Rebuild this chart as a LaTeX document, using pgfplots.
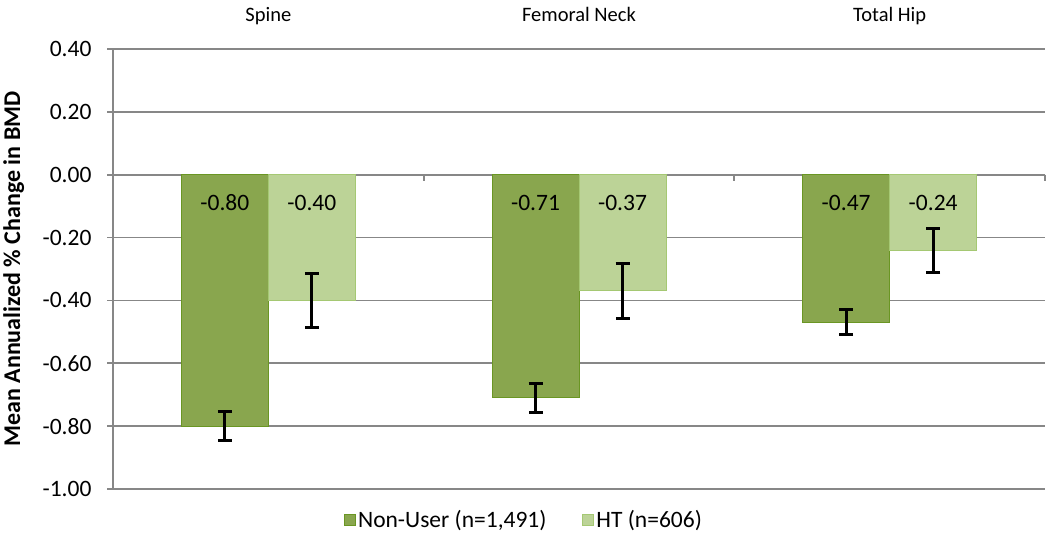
\documentclass[border=0pt]{standalone}
\usepackage{fontspec}
\setmainfont{Carlito}
\usepackage{pgfplots}
\usepackage{pgfplotstable}
\pgfplotsset{compat=1.18}
\definecolor{darkfill}{RGB}{137,166,78}
\definecolor{darkedge}{RGB}{106,150,35}
\definecolor{lightfill}{RGB}{188,211,151}
\definecolor{lightedge}{RGB}{165,200,115}
\definecolor{gridc}{RGB}{135,135,135}

\pgfplotstableread{
x nu nuerr ht hterr ly
0 -0.80 0.045 -0.40 0.085 -0.09
1 -0.71 0.046 -0.37 0.089 -0.09
2 -0.47 0.040 -0.24 0.070 -0.09
}\data

\begin{document}
\begin{tikzpicture}
\path[use as bounding box] (0,0) rectangle (1050pt,553pt);
\begin{axis}[
  at={(113pt,64pt)}, anchor=south west,
  scale only axis, width=932pt, height=440pt,
  ybar=0pt, bar width=87pt,
  xmin=-0.5, xmax=2.5, ymin=-1, ymax=0.4,
  ytick={-1,-0.8,-0.6,-0.4,-0.2,0,0.2,0.4},
  ymajorgrids, grid style={gridc, line width=1.7pt},
  axis x line*=top, axis y line*=left,
  axis line style={gridc, line width=1.7pt},
  xtick={0,1,2}, xticklabels={Spine,Femoral Neck,Total Hip},
  xtick style={draw=none},
  ytick style={gridc, line width=1.7pt},
  tick align=outside, major tick length=6pt,
  /pgf/number format/assume math mode=true,
  yticklabel style={font=\fontsize{23.5}{27}\selectfont, xshift=-12pt, /pgf/number format/fixed, /pgf/number format/fixed zerofill, /pgf/number format/precision=2},
  xticklabel style={anchor=base, yshift=21pt, font=\fontsize{20.5}{24}\selectfont},
  ylabel={Mean Annualized \% Change in BMD},
  every axis y label/.style={at={(rel axis cs:0,0.5)}, rotate=90, anchor=north, inner sep=0pt, yshift=110pt, font=\bfseries\fontsize{24}{28}\selectfont},
  legend style={at={(rel axis cs:0.441,-0.0705)}, anchor=center, draw=none, legend columns=2, font=\fontsize{23.5}{27}\selectfont, /tikz/every even column/.append style={column sep=34pt}},
  legend image code/.code={\draw[#1] (0pt,-5.5pt) rectangle (11pt,5.5pt);},
  clip=false,
]
\addplot[fill=darkfill, draw=darkedge, line width=1pt, bar shift=-43.5pt,
  error bars/.cd, y dir=both, y explicit,
  error bar style={black, line width=3pt},
  error mark options={rotate=90, mark size=7pt, line width=3pt, black}]
  table[x=x, y=nu, y error=nuerr]{\data};
\addlegendentry{Non-User (n=1,491)}
\addplot[fill=lightfill, draw=lightedge, line width=1pt, bar shift=43.5pt,
  error bars/.cd, y dir=both, y explicit,
  error bar style={black, line width=3pt},
  error mark options={rotate=90, mark size=7pt, line width=3pt, black}]
  table[x=x, y=ht, y error=hterr]{\data};
\addlegendentry{HT (n=606)}
\addplot[draw=none, fill=none, forget plot, bar shift=-43.5pt,
  nodes near coords={\pgfmathprintnumber[fixed,fixed zerofill,precision=2]{\pgfplotspointmeta}},
  point meta=explicit,
  every node near coord/.style={anchor=center, xshift=-43.5pt, black, font=\fontsize{23.5}{27}\selectfont}]
  table[x=x, y=ly, meta=nu]{\data};
\addplot[draw=none, fill=none, forget plot, bar shift=43.5pt,
  nodes near coords={\pgfmathprintnumber[fixed,fixed zerofill,precision=2]{\pgfplotspointmeta}},
  point meta=explicit,
  every node near coord/.style={anchor=center, xshift=43.5pt, black, font=\fontsize{23.5}{27}\selectfont}]
  table[x=x, y=ly, meta=ht]{\data};
\draw[gridc, line width=1.7pt] (axis cs:0.5,0) -- ++(0pt,-6pt);
\draw[gridc, line width=1.7pt] (axis cs:1.5,0) -- ++(0pt,-6pt);
\draw[gridc, line width=1.7pt] (axis cs:2.5,0) -- ++(0pt,-6pt);
\end{axis}
\end{tikzpicture}
\end{document}
